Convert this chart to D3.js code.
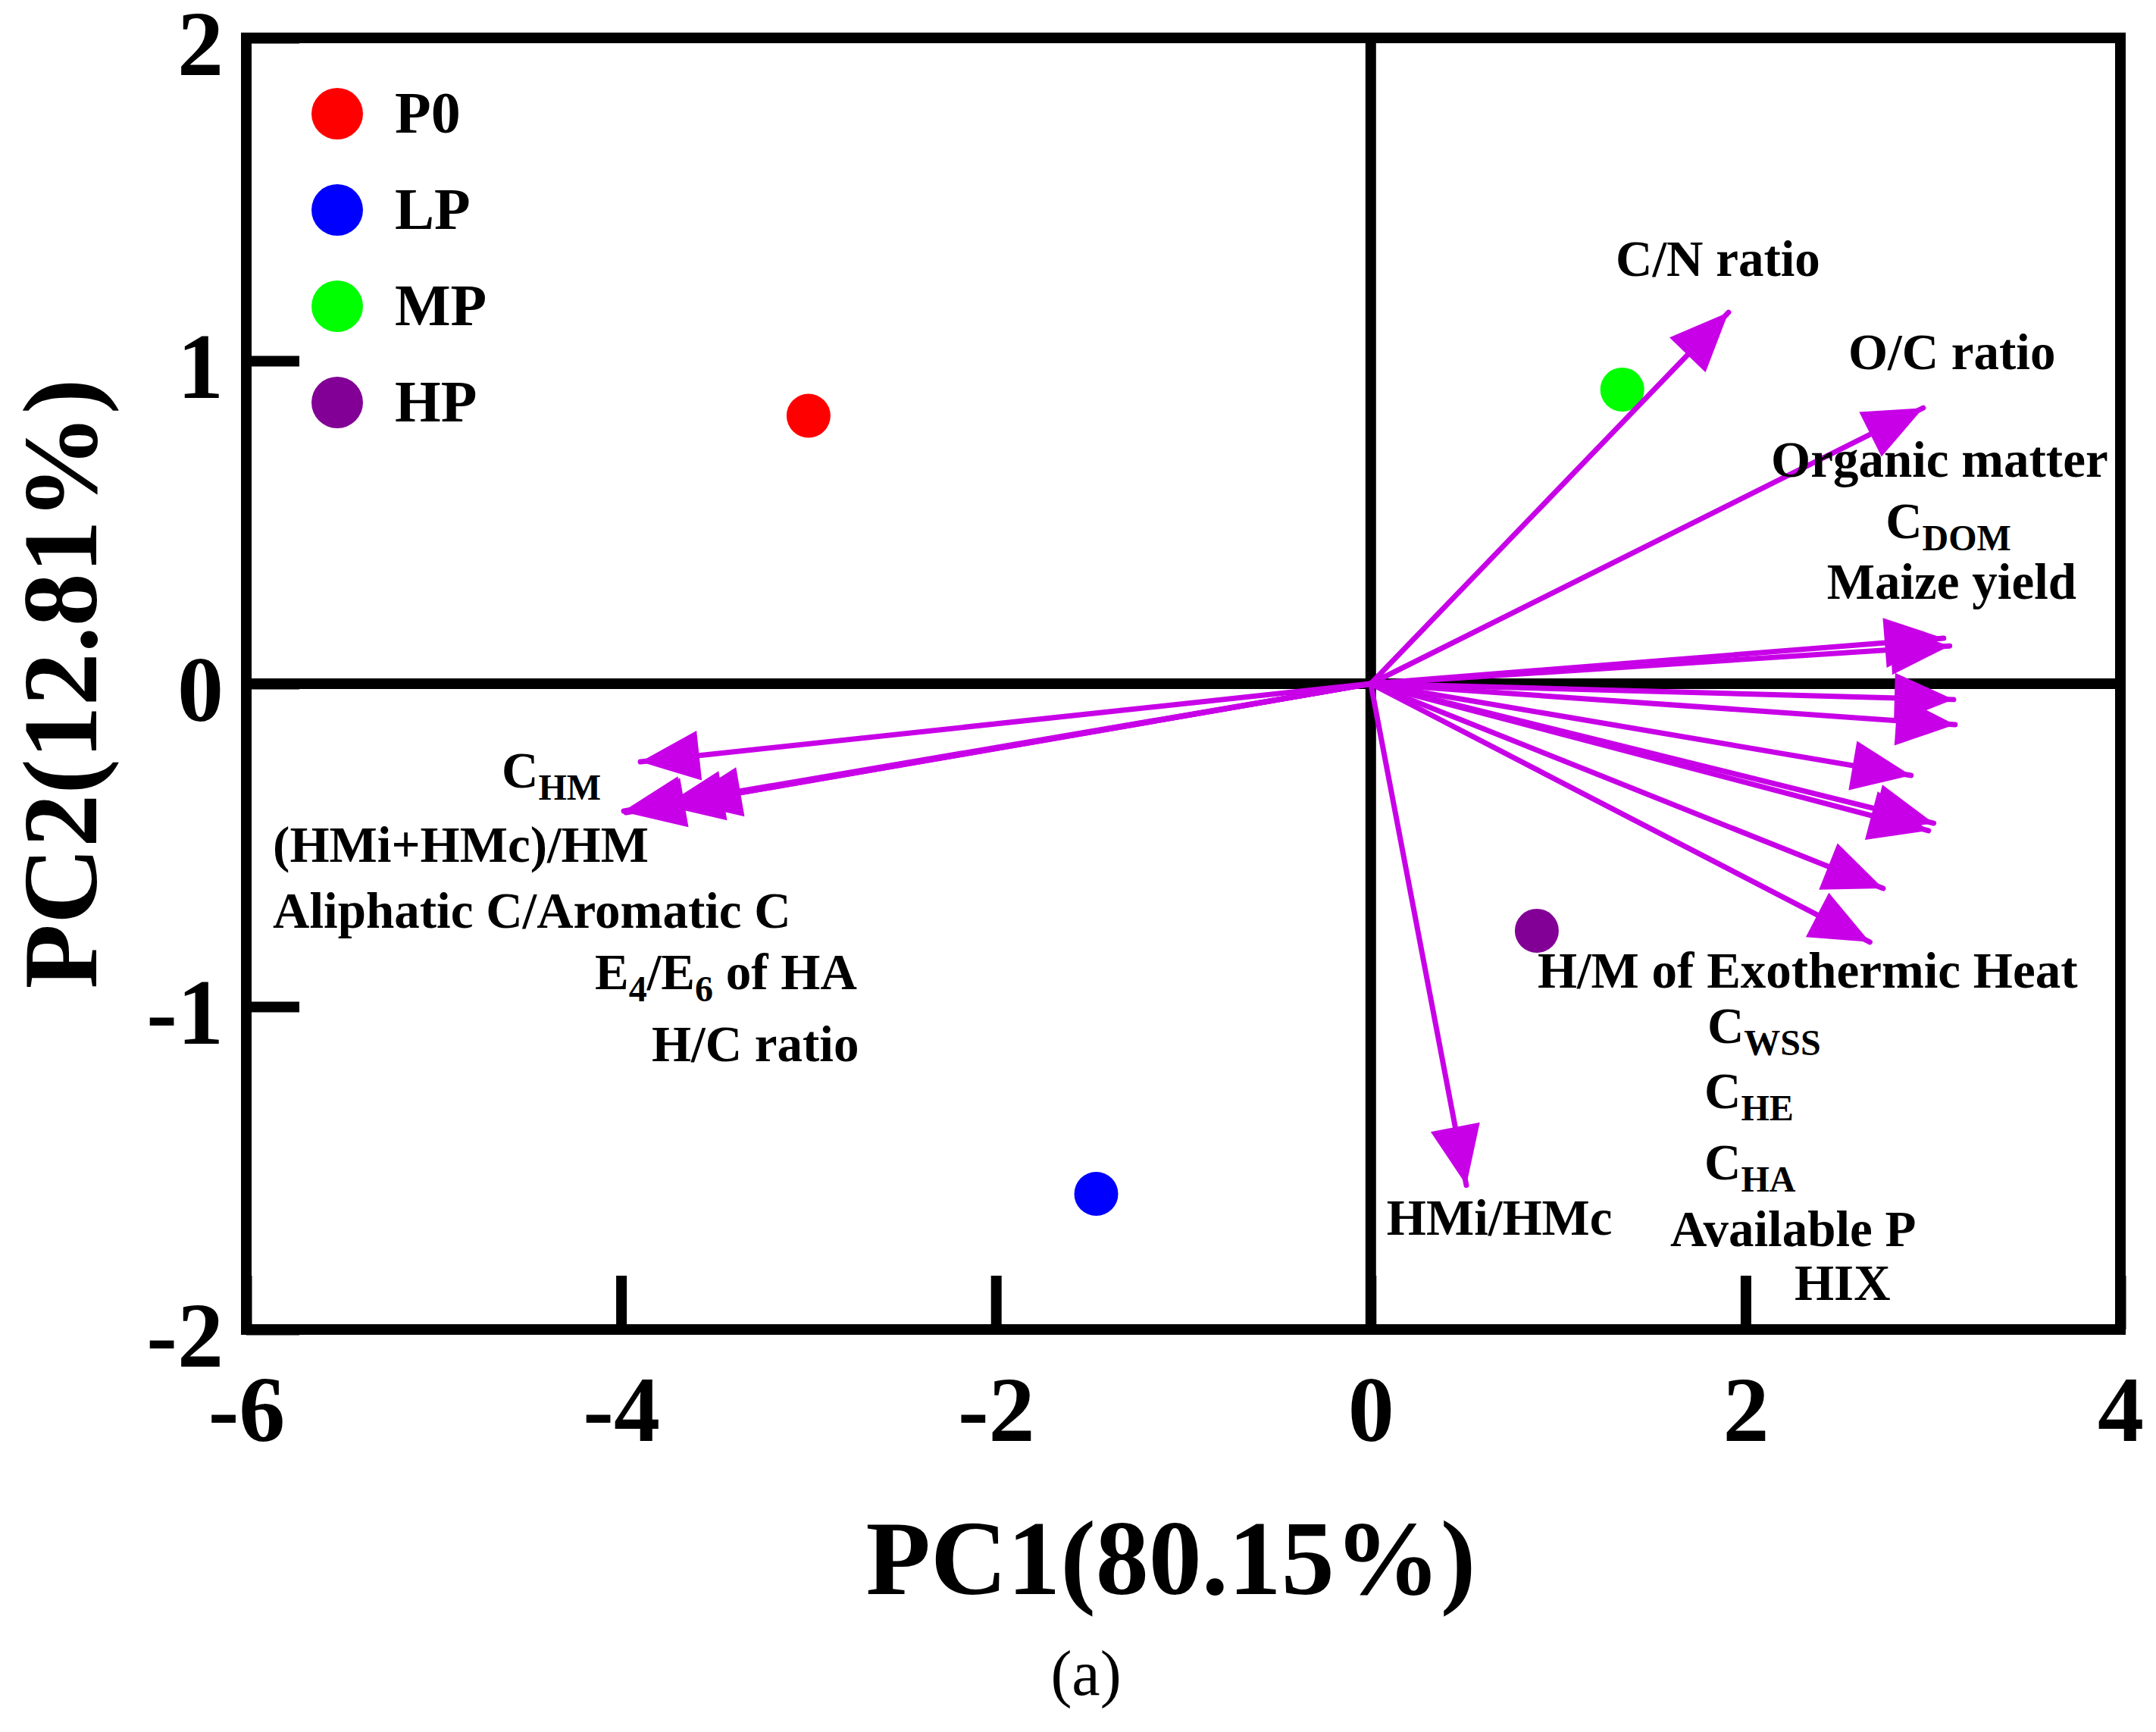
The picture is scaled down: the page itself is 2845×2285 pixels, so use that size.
<!DOCTYPE html>
<html>
<head>
<meta charset="utf-8">
<script src="https://cdn.jsdelivr.net/npm/d3@7/dist/d3.min.js"></script>
<style>
	body { margin: 0; background: #fff; }
	text { font-family: 'Liberation Serif', 'Times New Roman', serif; font-weight: bold; fill: #000; }
</style>
</head>
<body>
<svg id="chart" width="2845" height="2285"></svg>
<script>
'use strict';

// sample scores
var groups = ['P0', 'LP', 'MP', 'HP'];
var groupColors = ['#ff0000', '#0000ff', '#00ff00', '#820096'];
var groupPC1 = [-3.00, -1.465, 1.342, 0.886];
var groupPC2 = [0.83, -1.58, 0.911, -0.765];

// variable loadings (arrow tips), _{..} marks a subscript
var varNames = [
	'C/N ratio', 'O/C ratio', 'Organic matter', 'C_{DOM}', 'Maize yield',
	'H/M of Exothermic Heat', 'C_{WSS}', 'C_{HE}', 'C_{HA}', 'Available P', 'HIX',
	'HMi/HMc',
	'C_{HM}', '(HMi+HMc)/HM', 'Aliphatic C/Aromatic C', 'E_{4}/E_{6} of HA', 'H/C ratio'
];
var varPC1 = [1.909, 2.948, 3.057, 3.089, 3.110, 3.118, 2.883, 3.004, 2.976, 2.734, 2.663, 0.510, -3.897, -3.986, -3.974, -3.768, -3.675];
var varPC2 = [1.150, 0.854, 0.141, 0.117, -0.049, -0.127, -0.284, -0.432, -0.455, -0.634, -0.800, -1.553, -0.242, -0.394, -0.399, -0.378, -0.366];

// where each variable name sits (left edge / baseline, in PC units)
var labelPC1 = [1.307, 2.548, 2.136, 2.747, 2.434, 0.890, 1.796, 1.780, 1.780, 1.598, 2.261, 0.085, -4.637, -5.858, -5.858, -4.140, -3.837];
var labelPC2 = [1.263, 0.974, 0.641, 0.451, 0.263, -0.941, -1.113, -1.315, -1.535, -1.742, -1.908, -1.707, -0.322, -0.552, -0.756, -0.946, -1.169];

var xTicks = [-6, -4, -2, 0, 2, 4];
var yTicks = [-2, -1, 0, 1, 2];
var xTitle = 'PC1(80.15%)';
var yTitle = 'PC2(12.81%)';
var panelTag = '(a)';

var arrowColor = '#c800e8';
var lineW = 14;

var svg = d3.select('#chart');

var x = d3.scaleLinear().domain([-6, 4]).range([325, 2798]);
var y = d3.scaleLinear().domain([-2, 2]).range([1754, 50]);

// axes with inward ticks
var gx = svg.append('g')
	.attr('transform', 'translate(0,' + y(-2) + ')')
	.call(d3.axisBottom(x).tickValues(xTicks).tickSize(-71).tickPadding(60));
var gy = svg.append('g')
	.attr('transform', 'translate(' + x(-6) + ',0)')
	.call(d3.axisLeft(y).tickValues(yTicks).tickSize(-70).tickPadding(30));

[gx, gy].forEach(function (g) {
	g.select('.domain').remove();
	g.selectAll('.tick line').attr('stroke', '#000').attr('stroke-width', lineW);
	g.selectAll('.tick text')
		.attr('font-size', 122)
		.attr('font-family', "'Liberation Serif', 'Times New Roman', serif")
		.attr('font-weight', 'bold')
		.text(function (d) { return d < 0 ? '-' + Math.abs(d) : d; });
});
gy.selectAll('.tick text').attr('dy', '0.40em');

// frame and zero lines
svg.append('rect')
	.attr('x', x(-6)).attr('y', y(2))
	.attr('width', x(4) - x(-6)).attr('height', y(-2) - y(2))
	.attr('fill', 'none').attr('stroke', '#000').attr('stroke-width', lineW);
svg.append('line')
	.attr('x1', x(-6)).attr('x2', x(4)).attr('y1', y(0)).attr('y2', y(0))
	.attr('stroke', '#000').attr('stroke-width', lineW);
svg.append('line')
	.attr('x1', x(0)).attr('x2', x(0)).attr('y1', y(2)).attr('y2', y(-2))
	.attr('stroke', '#000').attr('stroke-width', lineW);

// sample points
var points = groups.map(function (g, i) {
	return { name: g, pc1: groupPC1[i], pc2: groupPC2[i], color: groupColors[i] };
});
svg.append('g').selectAll('circle')
	.data(points)
	.enter()
		.append('circle')
		.attr('cx', function (d) { return x(d.pc1); })
		.attr('cy', function (d) { return y(d.pc2); })
		.attr('r', 29)
		.attr('fill', function (d) { return d.color; });

// loading arrows
var vars = varNames.map(function (n, i) {
	return { name: n, pc1: varPC1[i], pc2: varPC2[i], lx: labelPC1[i], ly: labelPC2[i] };
});
var headLen = 78, headW = 66;

function headPath(d) {
	var x0 = x(0), y0 = y(0), x1 = x(d.pc1), y1 = y(d.pc2);
	var dx = x1 - x0, dy = y1 - y0, len = Math.sqrt(dx * dx + dy * dy);
	var ux = dx / len, uy = dy / len;
	var bx = x1 - ux * headLen, by = y1 - uy * headLen;
	return 'M' + x1 + ',' + y1 +
		'L' + (bx - uy * headW / 2) + ',' + (by + ux * headW / 2) +
		'L' + (bx + uy * headW / 2) + ',' + (by - ux * headW / 2) + 'Z';
}

var arrows = svg.append('g');
arrows.selectAll('line')
	.data(vars)
	.enter()
		.append('line')
		.attr('x1', x(0)).attr('y1', y(0))
		.attr('x2', function (d) { return x(d.pc1); })
		.attr('y2', function (d) { return y(d.pc2); })
		.attr('stroke', arrowColor)
		.attr('stroke-width', 7)
		.attr('stroke-linecap', 'round');
arrows.selectAll('path')
	.data(vars)
	.enter()
		.append('path')
		.attr('d', headPath)
		.attr('fill', arrowColor);

// variable names, with subscripts
var subShift = 16;
var labels = svg.append('g').selectAll('text')
	.data(vars)
	.enter()
		.append('text')
		.attr('x', function (d) { return x(d.lx); })
		.attr('y', function (d) { return y(d.ly); })
		.attr('font-size', 67);

labels.each(function (d) {
	var t = d3.select(this);
	var parts = d.name.split(/_\{([^}]*)\}/);
	var shifted = false;
	parts.forEach(function (p, i) {
		if(p === '') {
			return;
		}
		var span = t.append('tspan').text(p);
		if(i % 2 === 1) {
			span.attr('font-size', 48).attr('dy', shifted ? 0 : subShift);
			shifted = true;
		} else if(shifted) {
			span.attr('dy', -subShift);
			shifted = false;
		}
	});
});

// legend
var legend = svg.append('g').selectAll('g')
	.data(points)
	.enter()
		.append('g')
		.attr('transform', function (d, i) { return 'translate(445,' + (150 + i * 127) + ')'; });
legend.append('circle').attr('r', 34).attr('fill', function (d) { return d.color; });
legend.append('text')
	.attr('x', 76).attr('y', 25)
	.attr('font-size', 78)
	.text(function (d) { return d.name; });

// titles
svg.append('text')
	.attr('x', 1545).attr('y', 2103)
	.attr('text-anchor', 'middle')
	.attr('font-size', 140)
	.text(xTitle);
svg.append('text')
	.attr('transform', 'translate(127,' + y(0) + ') rotate(-90)')
	.attr('text-anchor', 'middle')
	.attr('font-size', 140)
	.text(yTitle);
svg.append('text')
	.attr('x', 1433).attr('y', 2236)
	.attr('text-anchor', 'middle')
	.attr('font-size', 84)
	.style('font-weight', 'normal')
	.text(panelTag);
</script>
</body>
</html>
